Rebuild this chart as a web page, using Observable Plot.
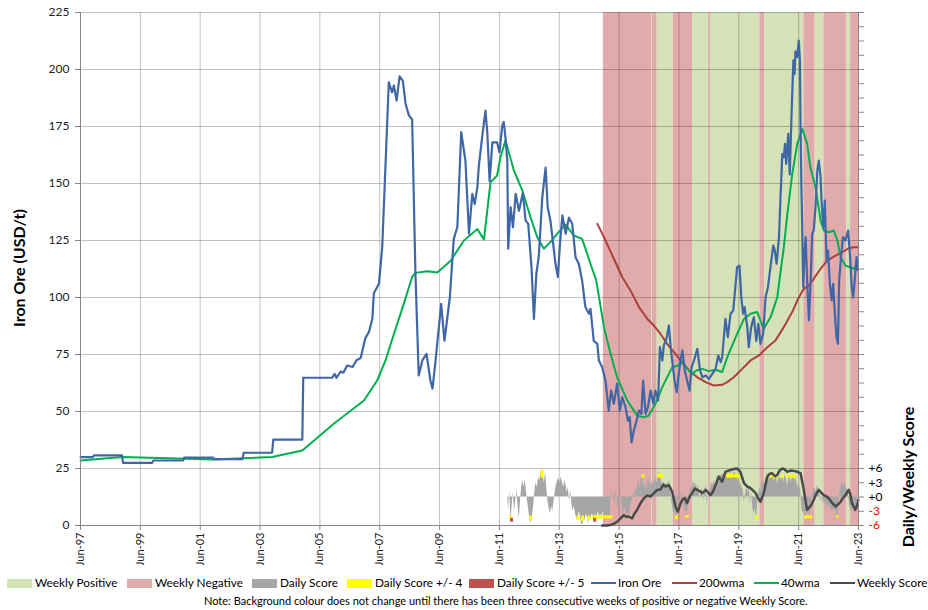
<!DOCTYPE html>
<html><head><meta charset="utf-8">
<script src="https://cdn.jsdelivr.net/npm/d3@7"></script>
<script src="https://cdn.jsdelivr.net/npm/@observablehq/plot@0.6"></script>
<style>
body{margin:0;background:#fff;font-family:Lato,sans-serif;color:#000;}
#wrap{position:relative;width:928px;height:610px;overflow:hidden;}
.layer{position:absolute;left:0;top:0;}
.ytitle{position:absolute;font-weight:bold;font-size:16px;white-space:nowrap;transform:translate(-50%,-50%) rotate(-90deg);}
#legend{position:absolute;left:0;top:576px;width:928px;height:14px;font-size:11.8px;line-height:14px;white-space:nowrap;}
.item{position:absolute;top:0;display:flex;align-items:center;gap:3px;white-space:nowrap;height:14px;}
.sw{width:25px;height:9px;display:inline-block;flex-shrink:0;}
.ln{width:25px;height:2px;display:inline-block;flex-shrink:0;}
#note{position:absolute;left:204px;top:594px;font-size:11px;white-space:nowrap;}
</style></head><body>
<div id="wrap">
  <div id="main" class="layer"></div>
  <div id="score" class="layer"></div>
  <div class="ytitle" style="left:18px;top:268px">Iron Ore (USD/t)</div>
  <div class="ytitle" style="left:907px;top:477px">Daily/Weekly Score</div>
  <div id="legend"></div>
  <div id="note"></div>
</div>
<script>
// ---------- data ----------
const yTicks = [0, 25, 50, 75, 100, 125, 150, 175, 200, 225];
const tickYears = [1997, 1999, 2001, 2003, 2005, 2007, 2009, 2011, 2013, 2015, 2017, 2019, 2021, 2023];
const scoreLabels = [-6, -3, 0, 3, 6];

const ironOre = [
[1997.42,30.0],[1997.83,30.0],[1997.87,30.8],[1998.80,30.8],[1998.84,27.5],[1999.81,27.5],[1999.85,28.5],[2000.85,28.5],
[2000.88,29.8],[2001.85,29.8],[2001.88,29.1],[2002.83,29.1],[2002.87,31.9],[2003.82,31.9],[2003.86,37.7],[2004.83,37.7],
[2004.86,64.8],[2005.83,64.8],[2005.91,66.5],[2005.97,64.8],[2006.11,67.5],[2006.20,67],[2006.33,70.2],[2006.51,69.5],
[2006.64,72.5],[2006.78,73.5],[2006.94,82.3],[2007.06,85],[2007.17,90.7],[2007.22,101.9],[2007.39,106],[2007.50,122],
[2007.72,194.4],[2007.83,190],[2007.89,193],[2007.98,186.4],[2008.08,197],[2008.19,195],[2008.28,185],[2008.39,180],
[2008.50,178],[2008.61,110.4],[2008.72,65.8],[2008.84,72.4],[2008.98,75.3],[2009.11,63.6],[2009.18,60],[2009.28,72],
[2009.47,97.2],[2009.58,81.1],[2009.76,100],[2009.89,125.7],[2010.01,130.8],[2010.14,172.5],[2010.28,160],[2010.40,128],
[2010.51,145.5],[2010.59,141],[2010.68,148.4],[2010.73,158],[2010.84,170.3],[2010.95,182],[2011.01,172.5],[2011.09,151],
[2011.18,168],[2011.34,168],[2011.42,163.7],[2011.51,175.4],[2011.56,177],[2011.62,170],[2011.68,160],[2011.71,121.4],
[2011.79,139.6],[2011.87,130.8],[2011.96,145.5],[2012.07,138],[2012.20,146],[2012.29,133.8],[2012.38,132.3],[2012.49,113],
[2012.57,90.6],[2012.65,110.4],[2012.73,117.7],[2012.85,144],[2012.96,157],[2013.03,139.6],[2013.12,133.8],[2013.20,125],
[2013.29,114.8],[2013.37,109],[2013.44,123.5],[2013.52,136],[2013.63,128],[2013.74,135],[2013.85,132.3],[2013.96,117.7],
[2014.07,114.8],[2014.18,107.5],[2014.29,95.8],[2014.41,92.9],[2014.46,95],[2014.57,81],[2014.69,79.7],[2014.74,72.4],
[2014.85,69.4],[2014.96,63.6],[2015.07,50.4],[2015.15,59.2],[2015.24,53.4],[2015.35,62.2],[2015.44,50.4],[2015.52,56.3],
[2015.63,51.9],[2015.71,46],[2015.77,47.5],[2015.83,36.5],[2015.91,41.7],[2016.00,46],[2016.08,50.4],[2016.16,49],
[2016.22,63.6],[2016.30,49],[2016.38,51.9],[2016.47,59.2],[2016.56,53.4],[2016.63,59.2],[2016.72,54.8],[2016.78,78.2],
[2016.86,72.4],[2016.91,79],[2017.00,81.9],[2017.08,87.7],[2017.14,78.2],[2017.19,72.4],[2017.27,63.6],[2017.34,58.5],
[2017.41,66.5],[2017.47,72.4],[2017.53,76.8],[2017.61,68],[2017.69,63.6],[2017.77,59.2],[2017.84,69.4],[2017.92,72.4],
[2018.03,77.5],[2018.12,68],[2018.20,65],[2018.31,65.8],[2018.42,64.3],[2018.53,66.5],[2018.64,68.7],[2018.73,74.6],
[2018.81,71.6],[2018.86,73.8],[2018.97,90.6],[2019.05,82.6],[2019.14,92.9],[2019.23,94.3],[2019.31,106],[2019.36,113.3],
[2019.44,114],[2019.50,100],[2019.56,92.9],[2019.61,95.8],[2019.70,87],[2019.75,78.2],[2019.83,87],[2019.92,91.4],
[2020.00,81],[2020.07,88.5],[2020.14,79.7],[2020.23,84],[2020.31,100],[2020.39,104.5],[2020.48,114],[2020.57,122.8],
[2020.62,120.6],[2020.68,114.8],[2020.76,126.5],[2020.81,144],[2020.87,163],[2020.92,161.5],[2020.96,167.4],[2021.00,158.6],
[2021.07,171.8],[2021.12,154],[2021.18,180.6],[2021.24,204],[2021.28,198],[2021.31,208],[2021.37,205.4],[2021.42,212.7],
[2021.46,204],[2021.48,174.7],[2021.51,148.4],[2021.57,104.5],[2021.61,119],[2021.65,126.5],[2021.70,107.5],[2021.76,90],
[2021.81,104.5],[2021.87,128],[2021.92,129.4],[2021.98,139.6],[2022.04,155.7],[2022.09,160],[2022.15,152.8],[2022.18,142.5],
[2022.24,130.8],[2022.29,142.5],[2022.35,116],[2022.40,120.6],[2022.46,106],[2022.52,98.7],[2022.57,106],[2022.62,94.3],
[2022.68,82.6],[2022.73,79.7],[2022.77,107.5],[2022.84,119],[2022.90,126.5],[2022.98,125],[2023.07,129.4],[2023.13,119],
[2023.19,104.5],[2023.24,100],[2023.29,107.5],[2023.35,117.7],[2023.39,112]
];

const wma40 = [
[1997.42,28.5],[1998.81,30],[2001.86,29],[2003.82,30],[2004.83,32.9],[2005.88,44.6],[2006.89,54.8],[2007.33,63.6],
[2007.61,72.4],[2007.89,84],[2008.22,97.2],[2008.50,109],[2008.61,110.8],[2009.00,111.5],[2009.34,111],[2009.78,116],
[2010.23,125],[2010.68,130],[2010.90,125.5],[2011.12,150.6],[2011.34,153.5],[2011.45,161.5],[2011.62,168.9],[2011.90,155.7],
[2012.18,147],[2012.46,135],[2012.68,126.5],[2012.90,121.4],[2013.12,124.3],[2013.35,128],[2013.63,132],[2013.90,127.2],
[2014.18,125.7],[2014.46,114.8],[2014.65,107.5],[2014.80,95.8],[2014.91,87],[2015.13,75.3],[2015.35,65],[2015.69,54.8],
[2016.02,48.2],[2016.24,47.5],[2016.41,48.2],[2016.63,53.4],[2016.86,60.7],[2017.08,66.5],[2017.19,69.4],[2017.38,70.2],
[2017.53,71.6],[2017.69,68.7],[2017.86,66.5],[2018.00,68],[2018.20,68.7],[2018.42,67.7],[2018.64,68.3],[2018.86,67.3],
[2019.03,73.8],[2019.36,84],[2019.59,90.6],[2019.81,92.9],[2020.03,93.6],[2020.25,86.3],[2020.48,91.4],[2020.70,100],
[2020.92,122],[2021.04,136.7],[2021.20,154],[2021.37,167.4],[2021.54,174],[2021.70,167.4],[2021.81,157],[2021.98,148.4],
[2022.15,133.8],[2022.26,129.4],[2022.43,128.6],[2022.59,129.4],[2022.71,125],[2022.82,117.7],[2022.98,114],[2023.15,113.3],
[2023.26,112.6],[2023.39,114]
];

const wma200 = [
[2014.69,132.3],[2014.91,126.5],[2015.24,117],[2015.52,109],[2015.80,103],[2016.08,95.8],[2016.36,90.6],[2016.58,87.7],
[2016.80,84],[2017.02,79.7],[2017.25,76],[2017.47,72.4],[2017.75,68],[2018.03,65],[2018.31,62.9],[2018.58,61.4],
[2018.86,61.7],[2019.03,62.9],[2019.25,65],[2019.53,68.7],[2019.81,72.4],[2020.09,74.6],[2020.37,78.2],[2020.64,81.1],
[2020.92,87],[2021.20,93.6],[2021.42,100],[2021.59,103.8],[2021.76,105.3],[2021.92,108.2],[2022.15,112.6],[2022.37,116.2],
[2022.65,118.4],[2022.87,119.9],[2023.09,121.6],[2023.26,122],[2023.41,122]
];

const weeklyScore = [
[2014.85,-6],[2015.00,-6],[2015.13,-5.9],[2015.25,-5.6],[2015.35,-5.2],[2015.45,-4.6],[2015.57,-3.8],[2015.66,-4.2],[2015.74,-4.1],
[2015.85,-4.5],[2015.93,-3.5],[2016.02,-2.7],[2016.13,-1.3],[2016.24,-0.3],[2016.35,0.3],[2016.47,0.1],[2016.58,0.8],
[2016.69,1.5],[2016.80,1.6],[2016.90,2.6],[2016.97,2.2],[2017.08,2.5],[2017.19,1.1],[2017.30,-2.0],[2017.38,-3.1],
[2017.46,-1.5],[2017.53,-0.6],[2017.61,-0.2],[2017.69,-1.3],[2017.78,0.2],[2017.86,0.8],[2017.95,1.8],[2018.03,1.5],
[2018.12,1.2],[2018.20,0.8],[2018.31,1.5],[2018.40,0.9],[2018.47,0.4],[2018.56,1.2],[2018.64,2.5],[2018.75,4.3],
[2018.86,3.2],[2018.97,5.3],[2019.05,5.5],[2019.14,5.7],[2019.25,5.9],[2019.36,6.0],[2019.47,5.3],[2019.59,2.9],
[2019.70,2.2],[2019.78,2.0],[2019.87,1.5],[2019.98,0.8],[2020.06,-0.2],[2020.14,-1.0],[2020.25,0.8],[2020.37,4.3],
[2020.45,4.9],[2020.53,5.0],[2020.62,4.4],[2020.70,4.6],[2020.78,5.6],[2020.87,6.0],[2020.95,5.8],[2021.04,5.3],
[2021.15,5.6],[2021.26,5.5],[2021.37,5.3],[2021.48,5.0],[2021.59,1.5],[2021.65,-1.0],[2021.70,-2.7],[2021.76,-2.2],
[2021.81,-2.0],[2021.92,-0.6],[2022.00,0.6],[2022.09,1.5],[2022.17,0.9],[2022.26,0.4],[2022.35,0.1],[2022.43,-0.3],
[2022.53,-1.2],[2022.65,-2.0],[2022.73,-1.6],[2022.82,-1.0],[2022.90,-0.2],[2022.98,0.4],[2023.09,1.5],[2023.15,0.4],
[2023.20,-1.3],[2023.31,-2.7],[2023.37,-1.8],[2023.41,-0.6]
];

const dailyScore = [
[2011.70,0],[2011.72,-3],[2011.76,1.5],[2011.80,-5],[2011.84,-2],[2011.88,1],[2011.92,-3],[2011.96,-1],[2012.00,1.5],
[2012.04,-2],[2012.08,-4.5],[2012.12,-1],[2012.16,2],[2012.20,3.5],[2012.24,2],[2012.28,3.8],[2012.32,1],[2012.36,-1],
[2012.40,-3],[2012.44,-4.8],[2012.48,-5.5],[2012.52,-4],[2012.56,-2],[2012.60,1],[2012.64,3],[2012.68,2],[2012.72,4],
[2012.76,3.5],[2012.80,5],[2012.84,5.8],[2012.88,4.5],[2012.92,3],[2012.96,5.2],[2013.00,2],[2013.04,-1],[2013.08,-2.5],
[2013.12,-3.5],[2013.16,-2],[2013.20,-3],[2013.24,-1],[2013.28,1],[2013.32,2.5],[2013.36,3.5],[2013.40,4],[2013.44,3],
[2013.48,4.2],[2013.52,3],[2013.56,2],[2013.60,3.5],[2013.64,2.5],[2013.68,1],[2013.72,2],[2013.76,-1],[2013.80,1.5],
[2013.84,-1.5],[2013.88,-3],[2013.92,-2],[2013.96,-3.5],[2014.00,-4.5],[2014.04,-5],[2014.08,-3],[2014.12,-4],
[2014.16,-5.5],[2014.20,-6],[2014.24,-4.5],[2014.28,-5],[2014.32,-3.5],[2014.36,-4.5],[2014.40,-5.5],[2014.44,-4],
[2014.48,-4.5],[2014.52,-3.5],[2014.56,-4],[2014.60,-4.8],[2014.64,-3.5],[2014.68,-4.5],[2014.72,-3],[2014.76,-4.2],
[2014.80,-3.5],[2014.84,-4.5],[2014.88,-3],[2014.92,-4.2],[2014.96,-4.8],[2015.00,-3.5],[2015.04,-4.5],[2015.08,-3.8],
[2015.12,-4.2],[2015.16,2],[2015.20,-1],[2015.24,1],[2015.28,-2],[2015.32,1.5],[2015.36,-1.5],[2015.40,-3],[2015.44,-1],
[2015.48,1],[2015.52,-2.5],[2015.56,-3.5],[2015.60,-2],[2015.64,-3],[2015.68,-4.2],[2015.72,-3],[2015.76,-4.5],
[2015.80,-2],[2015.84,-1],[2015.88,1],[2015.92,-0.5],[2015.96,2],[2016.00,1],[2016.04,2.5],[2016.08,3.5],[2016.12,2],
[2016.16,4],[2016.20,4.6],[2016.24,2],[2016.28,3],[2016.32,1.5],[2016.36,2.5],[2016.40,4.2],[2016.44,3],[2016.48,2],
[2016.52,3.5],[2016.56,2.5],[2016.60,3.5],[2016.64,4],[2016.68,3],[2016.72,4.8],[2016.76,5.3],[2016.80,4.6],[2016.84,3],
[2016.88,2.8],[2016.92,3.2],[2016.96,2],[2017.00,3],[2017.04,2.5],[2017.08,3.5],[2017.12,2],[2017.16,0.5],[2017.20,-2],
[2017.24,-3.5],[2017.28,-3],[2017.32,-4.5],[2017.36,-3],[2017.40,0.5],[2017.44,1.5],[2017.48,0.5],[2017.52,-1],
[2017.56,1],[2017.60,-2],[2017.64,-3],[2017.68,-4.2],[2017.72,-2],[2017.76,0.5],[2017.80,2],[2017.84,1.5],[2017.88,2.5],
[2017.92,3.5],[2017.96,2],[2018.00,3],[2018.04,1.5],[2018.08,2.5],[2018.12,-0.5],[2018.16,1],[2018.20,2],[2018.24,-1],
[2018.28,1.5],[2018.32,2.5],[2018.36,-1.5],[2018.40,1],[2018.44,0.5],[2018.48,2],[2018.52,3],[2018.56,2.5],[2018.60,3.5],
[2018.64,2.5],[2018.68,4],[2018.72,4.6],[2018.76,3],[2018.80,4.2],[2018.84,4.6],[2018.88,5],[2018.92,4.2],[2018.96,5.5],
[2019.00,4.6],[2019.04,5],[2019.08,4.4],[2019.12,5.6],[2019.16,4.6],[2019.20,5],[2019.24,4.5],[2019.28,5.5],[2019.32,4.8],
[2019.36,4.2],[2019.40,3.5],[2019.44,2.5],[2019.48,3],[2019.52,2],[2019.56,1.5],[2019.60,-1],[2019.64,0.5],[2019.68,2],
[2019.72,1],[2019.76,2.5],[2019.80,-1.5],[2019.84,1],[2019.88,-2],[2019.92,-3.5],[2019.96,-2.5],[2020.00,-4.5],
[2020.04,-2],[2020.08,0.5],[2020.12,2],[2020.16,1],[2020.20,3],[2020.24,3.5],[2020.28,2.5],[2020.32,4],[2020.36,5],
[2020.40,4.6],[2020.44,3.5],[2020.48,4.6],[2020.52,4],[2020.56,4.5],[2020.60,3],[2020.64,4.5],[2020.68,4],[2020.72,2.5],
[2020.76,4.6],[2020.80,4],[2020.84,3.5],[2020.88,4.8],[2020.92,3],[2020.96,4.5],[2021.00,4],[2021.04,2.5],[2021.08,3.5],
[2021.12,4.5],[2021.16,3],[2021.20,4],[2021.24,4.6],[2021.28,3.5],[2021.32,4],[2021.36,3],[2021.40,2],[2021.44,3],
[2021.48,1.5],[2021.52,-2],[2021.56,-3.5],[2021.60,-3],[2021.64,-4.6],[2021.68,-3],[2021.72,-3.5],[2021.76,-3],
[2021.80,-4.5],[2021.84,-1],[2021.88,0.5],[2021.92,1.5],[2021.96,2],[2022.00,1],[2022.04,2.5],[2022.08,1.5],[2022.12,0.5],
[2022.16,-1],[2022.20,0.5],[2022.24,-1.5],[2022.28,-0.5],[2022.32,-2],[2022.36,-1],[2022.40,-2.5],[2022.44,-1.5],
[2022.48,-2],[2022.52,-3],[2022.56,-2.5],[2022.60,-3],[2022.64,-2.5],[2022.68,-3.5],[2022.72,-4.3],[2022.76,-1],
[2022.80,1.5],[2022.84,2.5],[2022.88,3.5],[2022.92,2.5],[2022.96,3],[2023.00,1.5],[2023.04,2],[2023.08,0.5],
[2023.12,-1.5],[2023.16,-2.5],[2023.20,-3],[2023.24,-2],[2023.28,-3.5],[2023.32,-2.5],[2023.36,-1],[2023.40,1]
];

const yellowFlags = [
[2011.80,-4.8],[2012.46,-5],[2012.84,5.6],[2014.04,-4.9],[2014.20,-5.2],[2014.40,-5],[2014.57,-4.8],[2014.62,-4.7],
[2014.70,-4.7],[2014.78,-4.6],[2014.85,-4.6],[2014.93,-4.6],[2015.00,-4.5],[2015.08,-4.6],[2015.15,-4.5],[2015.80,-4.5],
[2016.21,4.7],[2016.74,4.8],[2016.78,4.9],[2016.84,4.6],[2017.33,-4.8],[2017.67,-4.4],[2017.70,-4.4],[2019.03,4.7],
[2019.10,4.9],[2019.17,4.8],[2019.26,4.7],[2019.33,4.8],[2019.40,4.6],[2020.01,-4.6],[2020.37,4.6],[2020.48,4.6],
[2020.58,4.5],[2020.70,4.6],[2020.88,4.7],[2021.05,4.6],[2021.17,4.6],[2021.26,4.7],[2021.65,-4.6],[2021.72,-4.5],
[2021.81,-4.6],[2022.71,-4.4]
];
const redFlags = [[2011.82,-5.3],[2014.60,-5.3]];

const bands = [
[2014.89,2016.50,"neg"],[2016.50,2016.53,"pos"],[2016.53,2016.69,"neg"],[2016.69,2017.23,"pos"],
[2017.23,2017.87,"neg"],[2017.87,2018.41,"pos"],[2018.41,2018.47,"neg"],[2018.47,2020.12,"pos"],
[2020.12,2020.28,"neg"],[2020.28,2021.59,"pos"],[2021.59,2021.97,"neg"],[2021.97,2022.26,"pos"],
[2022.26,2023.02,"neg"],[2023.02,2023.15,"pos"],[2023.15,2023.417,"neg"]
];

const legendLabels = ["Weekly Positive","Weekly Negative","Daily Score","Daily Score +/- 4","Daily Score +/- 5","Iron Ore","200wma","40wma","Weekly Score"];
const legendKinds  = ["box","box","box","box","box","line","line","line","line"];
const noteText = "Note: Background colour does not change until there has been three consecutive weeks of positive or negative Weekly Score.";

// ---------- style / layout ----------
const C = {
  pos: "#d5e1b7", neg: "#e2abab", daily: "#a6a6a6", yellow: "#ffff00", red: "#c0504d",
  ore: "#3f67a6", w200: "#ac3f3c", w40: "#00b050", weekly: "#4a4a4a"
};
const legendColors = [C.pos, C.neg, C.daily, C.yellow, C.red, C.ore, C.w200, C.w40, C.weekly];
const legendLeft = [7, 127, 252, 347, 469, 591, 672, 754, 830];   // layout (px)

const W = 928, H = 565;
const margins = {marginLeft: 80, marginRight: 70, marginTop: 12, marginBottom: 40};
const x0 = 1997 + 5/12, x1 = 2023 + 5/12;
const xTicks = tickYears.map(y => y + 5/12);
const fmtX = d => "Jun-" + String(Math.round(d - 5/12) % 100).padStart(2, "0");
const gridStroke = "#000", gridOpacity = 0.24;

// ---------- main plot ----------
const main = Plot.plot({
  width: W, height: H, ...margins,
  style: {fontFamily: "Lato, sans-serif", fontSize: "12px", background: "transparent", color: "#222"},
  x: {domain: [x0, x1]},
  y: {domain: [0, 225]},
  marks: [
    Plot.rect(bands, {x1: d => d[0], x2: d => d[1], y1: () => 0, y2: () => 225,
      fill: d => d[2] === "pos" ? C.pos : C.neg}),
    Plot.ruleY(yTicks.filter(d => d > 0), {stroke: gridStroke, strokeOpacity: gridOpacity}),
    Plot.ruleX(xTicks.filter(d => d > x0 + 0.01), {stroke: gridStroke, strokeOpacity: gridOpacity}),
    Plot.line(wma200, {x: d => d[0], y: d => d[1], stroke: C.w200, strokeWidth: 2}),
    Plot.line(wma40, {x: d => d[0], y: d => d[1], stroke: C.w40, strokeWidth: 2}),
    Plot.line(ironOre, {x: d => d[0], y: d => d[1], stroke: C.ore, strokeWidth: 2.2}),
    Plot.ruleX([x0], {stroke: "#868686"}),
    Plot.ruleY([0], {stroke: "#868686"}),
    Plot.axisY({ticks: yTicks, tickSize: 5, tickPadding: 6, label: null, fontSize: 12, stroke: "#868686"}),
    Plot.axisX({ticks: xTicks, tickFormat: fmtX, tickRotate: -90, tickSize: 5, tickPadding: 2, label: null, fontSize: 11, stroke: "#868686"})
  ]
});
document.getElementById("main").appendChild(main);

// ---------- score plot (secondary axis) ----------
const sx = d => d[0], sy = d => d[1];
const score = Plot.plot({
  width: W, height: H, ...margins,
  style: {fontFamily: "Lato, sans-serif", fontSize: "12px", background: "transparent", color: "#222"},
  x: {domain: [x0, x1], axis: null},
  y: {domain: [-6, 102]},
  marks: [
    Plot.areaY(dailyScore, {x: sx, y: sy, fill: C.daily}),
    Plot.ruleX(yellowFlags, {x: sx, y1: d => Math.sign(d[1]) * 4, y2: sy, stroke: C.yellow, strokeWidth: 3}),
    Plot.ruleX(redFlags, {x: sx, y1: d => Math.sign(d[1]) * 4.5, y2: sy, stroke: C.red, strokeWidth: 3}),
    Plot.line(weeklyScore, {x: sx, y: sy, stroke: C.weekly, strokeWidth: 2.5}),
    Plot.ruleX([x1], {stroke: "#868686"}),
    Plot.axisY({anchor: "right", ticks: d3.range(-6, 103, 3), tickSize: 5, tickFormat: () => "", label: null, stroke: "#868686"}),
    Plot.text(scoreLabels, {y: d => d, frameAnchor: "right", dx: 10, textAnchor: "start",
      text: d => (d >= 0 ? "+" : "") + d, fill: d => d < 0 ? "#ff0000" : "#000", fontSize: 12})
  ]
});
document.getElementById("score").appendChild(score);

// ---------- legend & note ----------
const lg = document.getElementById("legend");
legendLabels.forEach((lab, i) => {
  const it = document.createElement("span"); it.className = "item";
  it.style.left = legendLeft[i] + "px";
  const sw = document.createElement("span");
  sw.className = legendKinds[i] === "box" ? "sw" : "ln";
  sw.style.background = legendColors[i];
  const tx = document.createElement("span"); tx.textContent = lab;
  if (legendKinds[i] === "line") it.style.gap = "2px";
  it.appendChild(sw); it.appendChild(tx); lg.appendChild(it);
});
document.getElementById("note").textContent = noteText;
</script>
</body></html>
